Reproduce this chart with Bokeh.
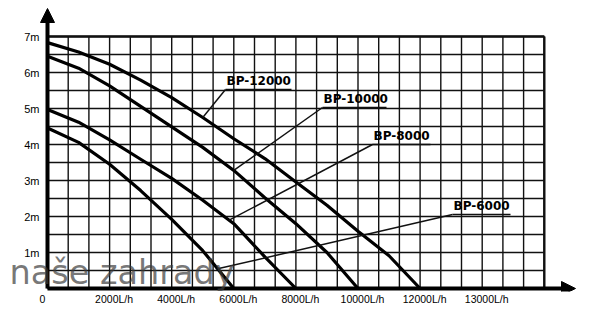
import numpy as np
from bokeh.plotting import figure
from bokeh.models import FixedTicker, Arrow, NormalHead, Label
from bokeh.core.properties import value
from bokeh.embed import file_html
from bokeh.resources import INLINE

# ---------------- data ----------------
# flow in L/h, head in m
bp12000_flow = [0, 1000, 2000, 3000, 4000, 5000, 6000, 7000, 8000, 9000, 10000, 11000, 12000]
bp12000_head = [6.83, 6.57, 6.23, 5.79, 5.30, 4.75, 4.16, 3.61, 2.96, 2.31, 1.59, 0.91, 0.0]

bp10000_flow = [0, 1000, 2000, 3000, 4000, 5000, 6000, 7000, 8000, 9000, 10000]
bp10000_head = [6.45, 6.12, 5.63, 5.06, 4.49, 3.92, 3.28, 2.52, 1.80, 1.00, 0.0]

bp8000_flow = [0, 1000, 2000, 3000, 4000, 5000, 6000, 7000, 8000]
bp8000_head = [4.97, 4.62, 4.13, 3.59, 3.06, 2.45, 1.80, 0.88, 0.0]

bp6000_flow = [0, 1000, 2000, 3000, 4000, 5000, 6000]
bp6000_head = [4.46, 4.06, 3.45, 2.72, 1.92, 1.05, 0.0]

series_names = ["BP-12000", "BP-10000", "BP-8000", "BP-6000"]

x_tick_values = [0, 2000, 4000, 6000, 8000, 10000, 12000, 14000]
x_tick_labels = ["0", "2000L/h", "4000L/h", "6000L/h", "8000L/h", "10000L/h", "12000L/h", "13000L/h"]
y_tick_values = [1, 2, 3, 4, 5, 6, 7]
y_tick_labels = ["1m", "2m", "3m", "4m", "5m", "6m", "7m"]

watermark = "naše zahrady"

# ---------------- layout / style ----------------
X_MAX, Y_MAX = 16000, 7.0
PX_PER_X = 31.05 / 1000.0   # px per L/h
PX_PER_Y = 36.0             # px per m
FL, FR, FT, FB = 0, 20, 4, 28
FW, FH = 600 - FL - FR, 319 - FT - FB
x0 = -47 / PX_PER_X
y0 = -3 / PX_PER_Y
x_range = (x0, x0 + FW / PX_PER_X)
y_range = (y0, y0 + FH / PX_PER_Y)

p = figure(frame_width=FW, frame_height=FH, x_range=x_range, y_range=y_range,
           min_border_left=FL, min_border_right=FR, min_border_top=FT, min_border_bottom=FB,
           y_axis_location=None,
           output_backend="svg", toolbar_location=None, tools="")
p.outline_line_color = None
p.grid.visible = False
p.background_fill_color = "white"
p.border_fill_color = "white"

INK = "#111111"

# grid (inside 0..16000 x 0..7)
xg = np.arange(0, X_MAX + 1, 2000 / 3)
yg = np.arange(0, Y_MAX + 0.01, 0.5)
p.segment(x0=xg, y0=0, x1=xg, y1=Y_MAX, line_color=INK, line_width=1.4)
p.segment(x0=0, y0=yg, x1=X_MAX, y1=yg, line_color=INK, line_width=1.4)
# frame top / right heavier
p.segment(x0=[0, X_MAX], y0=[Y_MAX, 0], x1=[X_MAX, X_MAX], y1=[Y_MAX, Y_MAX],
          line_color=INK, line_width=2.4)

# axes with arrows
p.add_layout(Arrow(end=NormalHead(size=14, fill_color="black", line_color="black"),
                   x_start=0, y_start=0, x_end=0, y_end=(288 - 8) / PX_PER_Y,
                   line_width=4, line_color="black"))
p.add_layout(Arrow(end=NormalHead(size=14, fill_color="black", line_color="black"),
                   x_start=0, y_start=0, x_end=(575 - 47) / PX_PER_X, y_end=0,
                   line_width=4, line_color="black"))

# y tick labels (head, m) placed through the data scale left of the axis
p.text(x=[-8 / PX_PER_X] * len(y_tick_values), y=y_tick_values, text=y_tick_labels,
       text_font=value("Liberation Sans"), text_font_size="11px", text_color="black",
       text_align="right", text_baseline="middle")

# pump curves
curves = [(bp12000_flow, bp12000_head), (bp10000_flow, bp10000_head),
          (bp8000_flow, bp8000_head), (bp6000_flow, bp6000_head)]
for fx, fy in curves:
    p.line(fx, fy, line_color="black", line_width=3.2, line_join="round")

# labels with underline and leader line
label_anchor = [((225 - 47) / PX_PER_X, (288 - 89) / PX_PER_Y),
                ((322 - 47) / PX_PER_X, (288 - 107) / PX_PER_Y),
                ((372 - 47) / PX_PER_X, (288 - 144) / PX_PER_Y),
                ((452 - 47) / PX_PER_X, (288 - 214) / PX_PER_Y)]
underline_px = [66, 64, 58, 58]
leader_target_x = [5000, 6000, 5850, 5480]
for (ax, ay), ulen, tx, (fx, fy), name in zip(label_anchor, underline_px, leader_target_x, curves, series_names):
    ty = float(np.interp(tx, fx, fy))
    p.segment(x0=[tx, ax], y0=[ty, ay], x1=[ax, ax + ulen / PX_PER_X], y1=[ay, ay],
              line_color=INK, line_width=1.5)
    p.text(x=[ax + 1 / PX_PER_X], y=[ay + 2 / PX_PER_Y], text=[name],
           text_font=value("DejaVu Sans"), text_font_style="bold", text_font_size="12px",
           text_baseline="bottom", text_align="left", text_color="black")

# x axis (labels only)
shift = [-160] + [145] * (len(x_tick_values) - 1)
x_pos = [v + s for v, s in zip(x_tick_values, shift)]
p.xaxis.ticker = FixedTicker(ticks=x_pos)
p.xaxis.major_label_overrides = {xp: lab for xp, lab in zip(x_pos, x_tick_labels)}
xa = p.xaxis[0]
xa.axis_line_color = None
xa.major_tick_line_color = None
xa.minor_tick_line_color = None
xa.major_tick_out = 0
xa.major_tick_in = 0
xa.major_label_text_font = "Liberation Sans"
xa.major_label_text_color = "black"
xa.major_label_text_font_size = "10.5px"
xa.major_label_standoff = 1

# watermark
p.add_layout(Label(x=(9 - 47) / PX_PER_X, y=(288 - 272) / PX_PER_Y, text=watermark,
                   text_font="DejaVu Sans", text_font_size="33.5px", text_color="#3c3c3c",
                   text_alpha=0.7, text_baseline="alphabetic"))

open("out.html", "w").write(file_html(p, INLINE))
